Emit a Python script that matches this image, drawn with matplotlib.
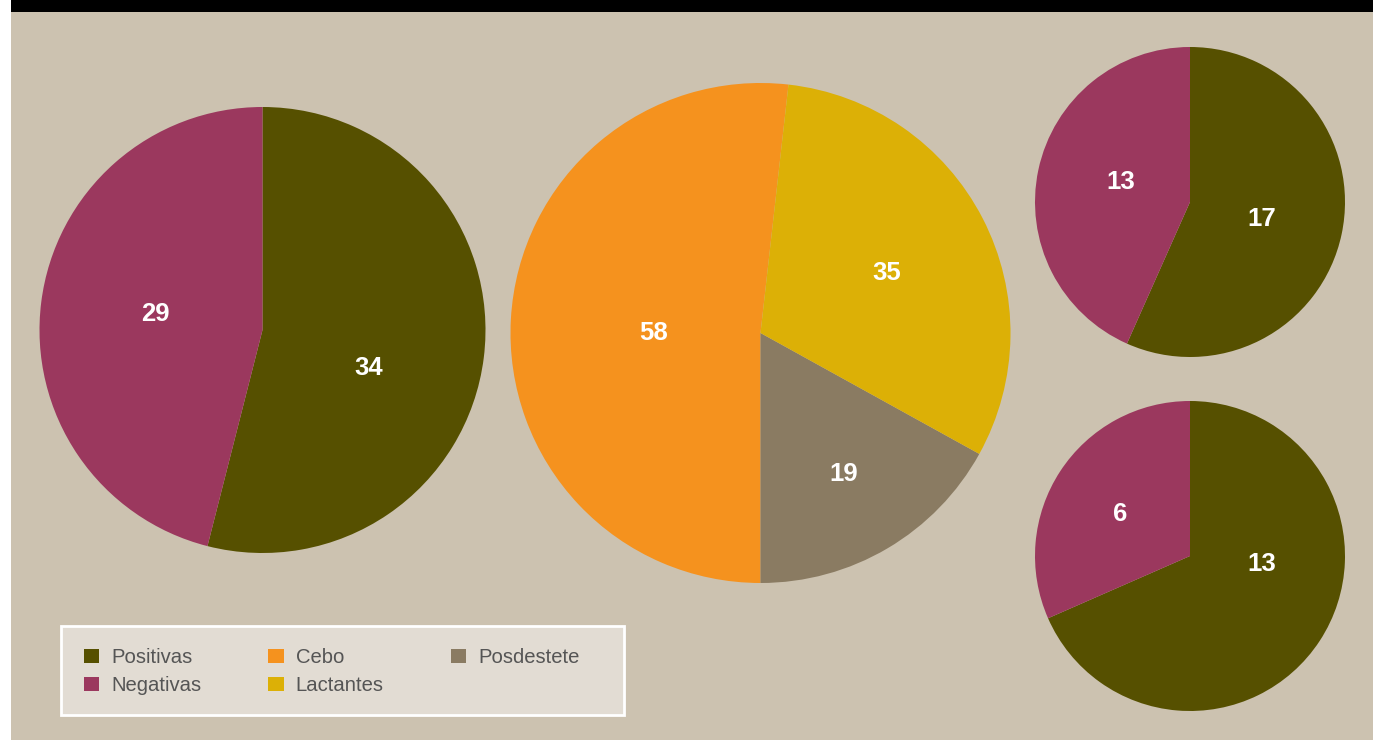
import matplotlib.pyplot as plt
from matplotlib.patches import Rectangle, Patch

# colours
c_pos = '#565000'
c_neg = '#9b385e'
c_cebo = '#f5921e'
c_lact = '#dcb006'
c_posd = '#8a7b62'
bg = '#ccc2b0'

# data
pie1_labels = ['Positivas', 'Negativas']
pie1_values = [34, 29]
pie2_labels = ['Cebo', 'Posdestete', 'Lactantes']
pie2_values = [58, 19, 35]
pie3_values = [17, 13]
pie4_values = [13, 6]
legend_labels = ['Positivas', 'Negativas', 'Cebo', 'Lactantes', 'Posdestete']

W, H = 1373, 740
fig = plt.figure(figsize=(W / 100, H / 100), dpi=100, facecolor='white')

# background + black band on top
fig.patches.append(Rectangle((11 / W, 0), 1 - 11 / W, 1, transform=fig.transFigure,
                             facecolor=bg, edgecolor='none', zorder=-3))
fig.patches.append(Rectangle((11 / W, 728 / H), 1 - 11 / W, 12 / H, transform=fig.transFigure,
                             facecolor='black', edgecolor='none', zorder=-2))


def pie_axes(cx, cy, r):
    ax = fig.add_axes([(cx - r) / W, (H - cy - r) / H, 2 * r / W, 2 * r / H])
    ax.set_xlim(-1, 1)
    ax.set_ylim(-1, 1)
    ax.axis('off')
    return ax


def draw_pie(ax, values, colors, start, ccw, label_pos):
    wedges, texts = ax.pie(values, colors=colors, startangle=start, counterclock=ccw,
                           radius=1, labels=[str(v) for v in values], labeldistance=0.5,
                           wedgeprops=dict(linewidth=0), frame=False)
    ax.set_xlim(-1, 1)
    ax.set_ylim(-1, 1)
    for t, p in zip(texts, label_pos):
        t.set_position(p)
        t.set_ha('center')
        t.set_va('center')
        t.set_color('white')
        t.set_fontsize(18.5)
        t.set_fontweight('bold')
        t.set_family('Liberation Sans')


ax1 = pie_axes(262.5, 330, 223)
draw_pie(ax1, pie1_values, [c_pos, c_neg], 90, False, [(0.477, -0.17), (-0.48, 0.072)])

ax2 = pie_axes(760.5, 333, 250)
start2 = 270 - pie2_values[0] / sum(pie2_values) * 360
draw_pie(ax2, pie2_values, [c_cebo, c_posd, c_lact], start2, True,
         [(-0.426, 0.0), (0.332, -0.564), (0.504, 0.24)])

ax3 = pie_axes(1190, 202, 155)
draw_pie(ax3, pie3_values, [c_pos, c_neg], 90, False, [(0.465, -0.11), (-0.45, 0.13)])

ax4 = pie_axes(1190, 556, 155)
draw_pie(ax4, pie4_values, [c_pos, c_neg], 90, False, [(0.465, -0.05), (-0.45, 0.27)])

# legend box
fig.patches.append(Rectangle((61 / W, (H - 715) / H), (624 - 61) / W, (715 - 626) / H,
                             transform=fig.transFigure, facecolor='#e2dcd3',
                             edgecolor='white', linewidth=2, zorder=-1))
handle_colors = [c_pos, c_neg, c_cebo, c_lact, c_posd]
handles = [Patch(facecolor=c, edgecolor='none') for c in handle_colors]
leg = fig.legend(handles, legend_labels, ncol=3, loc='upper left',
                 bbox_to_anchor=(84 / W, (H - 648) / H), frameon=False,
                 prop={'family': 'Liberation Sans', 'size': 14.6},
                 handlelength=0.75, handleheight=0.75, handletextpad=0.6,
                 columnspacing=3.3, labelspacing=0.45, borderpad=0, borderaxespad=0)
for t in leg.get_texts():
    t.set_color('#555555')

plt.savefig('out.png', dpi=100, facecolor=fig.get_facecolor())
